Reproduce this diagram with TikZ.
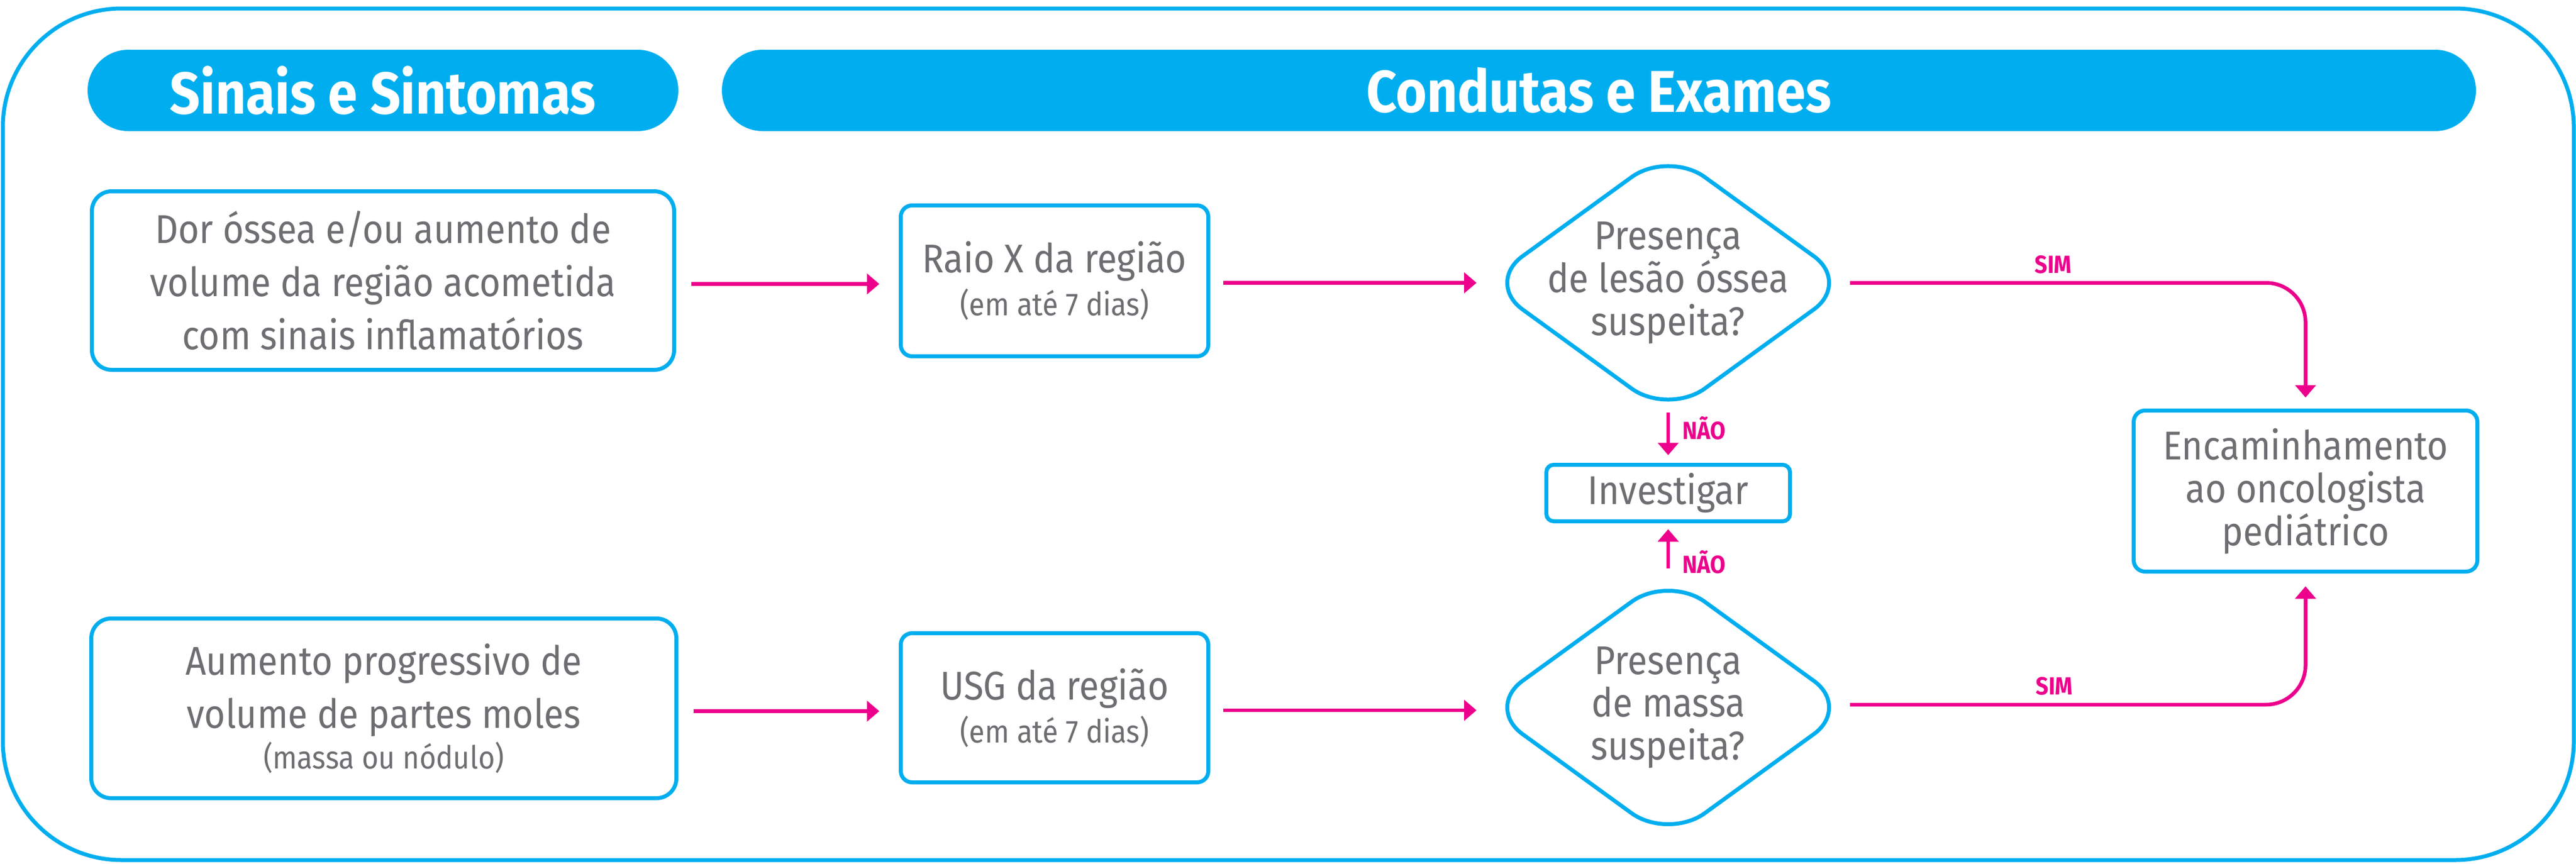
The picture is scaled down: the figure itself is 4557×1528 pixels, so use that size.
\documentclass[tikz,border=0pt]{standalone}
\usepackage{fontspec}
\setmainfont{Fira Sans}[FakeStretch=0.9]
\usetikzlibrary{shapes.geometric,arrows.meta}
\definecolor{cy}{HTML}{00AEEF}
\definecolor{mg}{HTML}{EC008C}
\definecolor{tg}{HTML}{6D6E71}
\tikzset{
 frame/.style={draw=cy, line width=0.7mm, rounded corners=21mm},
 pill/.style={fill=cy, text=white, rounded corners=7.2mm, minimum height=14.4mm, inner sep=0, font=\fontsize{29.7pt}{30pt}\selectfont\bfseries},
 box/.style={draw=cy, line width=0.7mm, fill=white, text=tg, align=center, inner sep=0},
 lbox/.style={box, rounded corners=3.5mm, font=\fontsize{20.2pt}{26.7pt}\selectfont},
 sbox/.style={box, rounded corners=2mm, font=\fontsize{20.2pt}{21.6pt}\selectfont},
 dec/.style={diamond, draw=cy, line width=0.7mm, fill=white, text=tg, align=center, inner xsep=-30mm, inner ysep=-15mm, minimum width=64.8mm, minimum height=47.1mm, rounded corners=8mm, font=\fontsize{20.2pt}{21.6pt}\selectfont},
 arr/.style={draw=mg, line width=0.65mm, -{Triangle[width=3.6mm,length=2.2mm]}},
 lbl/.style={text=mg, font=\fontsize{12.5pt}{13pt}\selectfont\bfseries, inner sep=0},
}
\newcommand{\smalltxt}{\fontsize{16pt}{21pt}\selectfont}
\begin{document}
\begin{tikzpicture}[x=0.1mm,y=-0.1mm]
\useasboundingbox (0,0) rectangle (4557,1528);
\draw[frame] (5,15) rectangle (4553,1522);
% headers
\node[pill, minimum width=104.5mm] (h1) at (677.5,160) {Sinais e Sintomas};
\node[pill, minimum width=310.3mm] (h2) at (2828.5,160) {Condutas e Exames};
% boxes
\node[lbox, minimum width=103.0mm, minimum height=31.6mm] (b1) at (677.5,496.5)
  {Dor óssea e/ou aumento de\\volume da região acometida\\com sinais inflamatórios};
\node[lbox, minimum width=103.5mm, minimum height=31.8mm] (b2) at (679,1253.5)
  {Aumento progressivo de\\volume de partes moles\\[-6.2pt]{\smalltxt(massa ou nódulo)}};
\node[sbox, minimum width=54.4mm, minimum height=26.7mm] (r1) at (1865.5,497)
  {Raio X da região\\{\smalltxt(em até 7 dias)}};
\node[sbox, minimum width=54.4mm, minimum height=26.4mm] (r2) at (1865.5,1252.5)
  {USG da região\\{\smalltxt(em até 7 dias)}};
\node[dec] (d1) at (2951,500.5) {Presença\\de lesão óssea\\suspeita?};
\node[dec] (d2) at (2951,1252) {Presença\\de massa\\suspeita?};
\node[sbox, rounded corners=1.3mm, minimum width=43.1mm, minimum height=10.0mm] (inv) at (2951,872.5) {Investigar};
\node[sbox, minimum width=60.8mm, minimum height=28.5mm] (enc) at (4078.5,869)
  {Encaminhamento\\ao oncologista\\pediátrico};
% connectors
\draw[arr, shorten <=2.65mm, shorten >=3.45mm] ([yshift=-0.6mm]b1.east) -- ([yshift=-0.6mm]b1.east -| r1.west);
\draw[arr, shorten <=2.25mm, shorten >=1.15mm] (r1.east |- d1.west) -- (d1.west);
\draw[arr, shorten <=2.65mm, shorten >=3.45mm] ([yshift=-0.5mm]b2.east) -- ([yshift=-0.5mm]b2.east -| r2.west);
\draw[arr, shorten <=2.25mm, shorten >=1.15mm] ([yshift=-0.45mm]r2.east) -- ([yshift=-0.45mm]r2.east -| d2.west);
\draw[arr, rounded corners=7mm, shorten <=-0.6mm, shorten >=1.95mm] (d1.east) -- (d1.east -| enc.north) -- (enc.north);
\draw[arr, rounded corners=7mm, shorten <=-0.6mm, shorten >=2.25mm] ([yshift=0.5mm]d2.east) -- ([yshift=0.5mm]d2.east -| enc.south) -- (enc.south);
\draw[arr, shorten <=-1mm, shorten >=1.35mm] (d1.south) -- (inv.north);
\draw[arr, shorten <=0.7mm, shorten >=1.05mm] (d2.north) -- (inv.south);
% labels
\node[lbl] (sim1) at (3632,468) {SIM};
\node[lbl] (sim2) at (3634,1214) {SIM};
\node[lbl, anchor=west] (nao1) at (2976,758) {NÃO};
\node[lbl, anchor=west] (nao2) at (2976,995) {NÃO};
\end{tikzpicture}
\end{document}
